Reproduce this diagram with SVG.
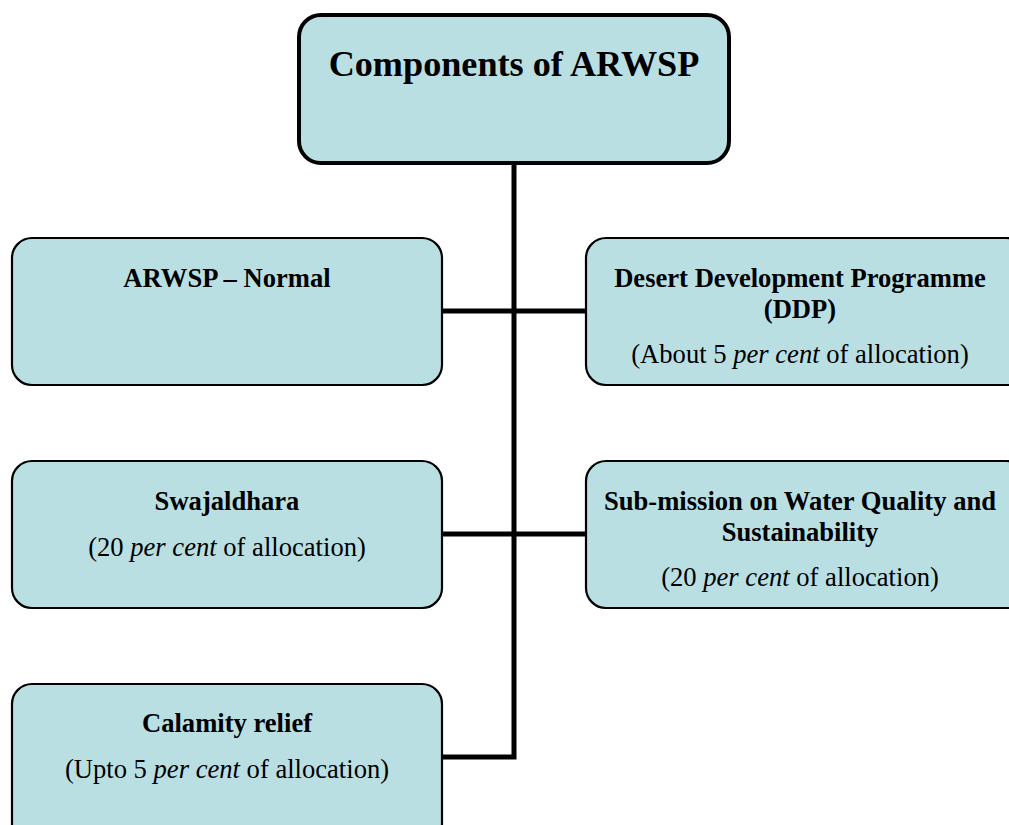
<svg xmlns="http://www.w3.org/2000/svg" width="1009" height="825" viewBox="0 0 1009 825">
<style>
.box{fill:#b9dfe3;stroke:#000;stroke-width:2.2}
.top{fill:#b9dfe3;stroke:#000;stroke-width:4}
.conn{stroke:#000;stroke-width:5;fill:none}
text{font-family:"Liberation Serif","Times New Roman",serif;fill:#000;text-anchor:middle}
.b{font-weight:bold;font-size:26.6px}
.r{font-size:26.6px}
.t{font-weight:bold;font-size:36.2px}
</style>
<rect width="1009" height="825" fill="#fff"/>
<g id="connectors">
<path class="conn" d="M514,163 V757 H442"/>
<path class="conn" d="M442,311 H586"/>
<path class="conn" d="M442,534 H586"/>
</g>
<g id="top">
<rect class="top" x="299" y="15" width="430" height="148" rx="22"/>
<text class="t" x="514" y="76">Components of ARWSP</text>
</g>
<g id="normal">
<rect class="box" x="12" y="238" width="430" height="147" rx="20"/>
<text class="b" x="227" y="287">ARWSP – Normal</text>
</g>
<g id="ddp">
<rect class="box" x="586" y="238" width="440" height="147" rx="20"/>
<text class="b" x="800" y="287">Desert Development Programme</text>
<text class="b" x="800" y="318">(DDP)</text>
<text class="r" x="800" y="363">(About 5 <tspan font-style="italic">per cent</tspan> of allocation)</text>
</g>
<g id="swajaldhara">
<rect class="box" x="12" y="461" width="430" height="147" rx="20"/>
<text class="b" x="227" y="510">Swajaldhara</text>
<text class="r" x="227" y="556">(20 <tspan font-style="italic">per cent</tspan> of allocation)</text>
</g>
<g id="submission">
<rect class="box" x="586" y="461" width="440" height="147" rx="20"/>
<text class="b" x="800" y="510">Sub-mission on Water Quality and</text>
<text class="b" x="800" y="541">Sustainability</text>
<text class="r" x="800" y="586">(20 <tspan font-style="italic">per cent</tspan> of allocation)</text>
</g>
<g id="calamity">
<rect class="box" x="12" y="684" width="430" height="160" rx="20"/>
<text class="b" x="227" y="732">Calamity relief</text>
<text class="r" x="227" y="778">(Upto 5 <tspan font-style="italic">per cent</tspan> of allocation)</text>
</g>
</svg>
